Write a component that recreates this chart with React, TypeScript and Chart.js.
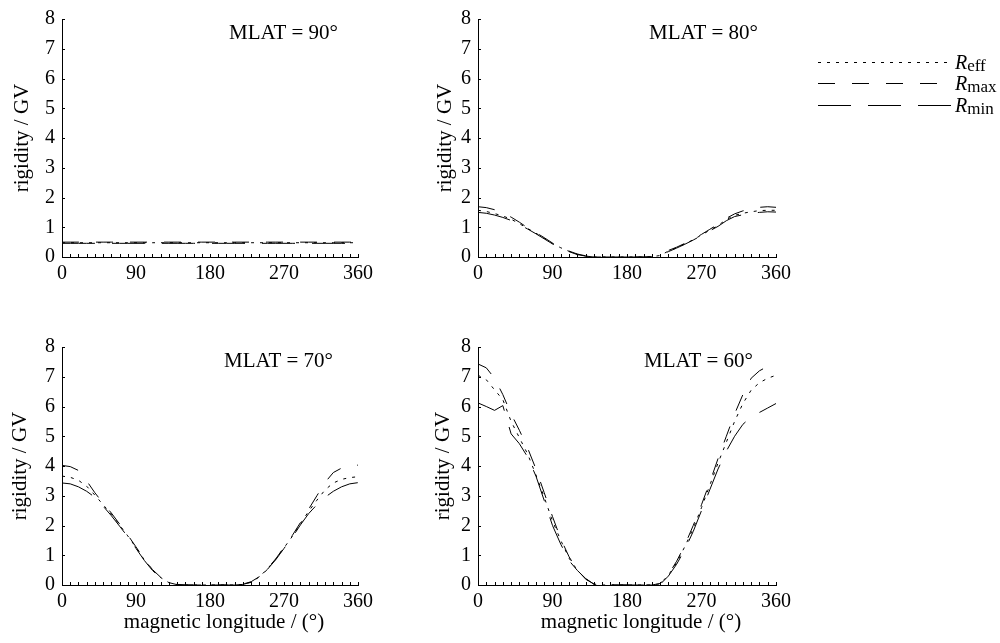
import React, { useEffect, useRef } from "react";
import { Chart, registerables } from "chart.js";

Chart.register(...registerables);

// ---------- data ----------
const longitude = [0, 10, 20, 30, 40, 50, 60, 70, 80, 90, 100, 110, 120, 130, 140, 150, 160, 170, 180, 190, 200, 210, 220, 230, 240, 250, 260, 270, 280, 290, 300, 310, 320, 330, 340, 350, 360];

const rMax90 = [0.5, 0.5, 0.5, 0.5, 0.5, 0.5, 0.5, 0.5, 0.5, 0.5, 0.5, 0.5, 0.5, 0.5, 0.5, 0.5, 0.5, 0.5, 0.5, 0.5, 0.5, 0.5, 0.5, 0.5, 0.5, 0.5, 0.5, 0.5, 0.5, 0.5, 0.5, 0.5, 0.5, 0.5, 0.5, 0.5, 0.5];
const rEff90 = [0.48, 0.48, 0.48, 0.48, 0.48, 0.48, 0.48, 0.48, 0.48, 0.48, 0.48, 0.48, 0.48, 0.48, 0.48, 0.48, 0.48, 0.48, 0.48, 0.48, 0.48, 0.48, 0.48, 0.48, 0.48, 0.48, 0.48, 0.48, 0.48, 0.48, 0.48, 0.48, 0.48, 0.48, 0.48, 0.48, 0.48];
const rMin90 = [0.46, 0.46, 0.46, 0.46, 0.46, 0.46, 0.46, 0.46, 0.46, 0.46, 0.46, 0.46, 0.46, 0.46, 0.46, 0.46, 0.46, 0.46, 0.46, 0.46, 0.46, 0.46, 0.46, 0.46, 0.46, 0.46, 0.46, 0.46, 0.46, 0.46, 0.46, 0.46, 0.46, 0.46, 0.46, 0.46, 0.46];

const rMax80 = [1.69, 1.66, 1.59, 1.48, 1.34, 1.17, 0.98, 0.82, 0.65, 0.47, 0.33, 0.2, 0.1, 0.04, 0.01, 0, 0, 0, 0, 0, 0, 0.01, 0.08, 0.22, 0.33, 0.46, 0.6, 0.76, 0.93, 1.1, 1.3, 1.45, 1.55, 1.62, 1.67, 1.69, 1.67];
const rEff80 = [1.57, 1.53, 1.46, 1.38, 1.27, 1.12, 0.96, 0.8, 0.63, 0.45, 0.31, 0.19, 0.09, 0.03, 0, 0, 0, 0, 0, 0, 0, 0.01, 0.05, 0.2, 0.31, 0.44, 0.58, 0.74, 0.9, 1.06, 1.26, 1.4, 1.47, 1.52, 1.56, 1.57, 1.57];
const rMin80 = [1.5, 1.47, 1.41, 1.33, 1.23, 1.09, 0.94, 0.78, 0.61, 0.44, 0.3, 0.18, 0.08, 0.03, 0, 0, 0, 0, 0, 0, 0, 0, 0.03, 0.18, 0.3, 0.43, 0.57, 0.72, 0.88, 1.03, 1.22, 1.36, 1.42, 1.47, 1.5, 1.52, 1.51];

const rMax70 = [4.02, 3.98, 3.85, 3.5, 3.1, 2.75, 2.42, 2.05, 1.68, 1.28, 0.87, 0.52, 0.26, 0.09, 0.02, 0, 0, 0, 0, 0, 0, 0, 0.03, 0.11, 0.28, 0.56, 0.88, 1.27, 1.66, 2.1, 2.55, 3.0, 3.45, 3.78, 3.93, 4.0, 4.03];
const rEff70 = [3.66, 3.62, 3.52, 3.32, 3.02, 2.7, 2.38, 2.02, 1.65, 1.26, 0.85, 0.5, 0.25, 0.08, 0.01, 0, 0, 0, 0, 0, 0, 0, 0.02, 0.1, 0.27, 0.55, 0.87, 1.25, 1.63, 2.06, 2.48, 2.85, 3.2, 3.43, 3.55, 3.61, 3.64];
const rMin70 = [3.43, 3.4, 3.3, 3.15, 2.95, 2.65, 2.33, 1.98, 1.62, 1.23, 0.83, 0.49, 0.24, 0.08, 0.01, 0, 0, 0, 0, 0, 0, 0, 0.02, 0.09, 0.26, 0.53, 0.85, 1.23, 1.6, 2.02, 2.4, 2.7, 2.95, 3.15, 3.3, 3.4, 3.44];

const rMax60 = [7.43, 7.3, 6.95, 6.4, 5.75, 5.2, 4.6, 3.9, 3.1, 2.3, 1.55, 0.95, 0.5, 0.2, 0.03, 0, 0, 0, 0, 0, 0, 0, 0.05, 0.35, 0.8, 1.35, 2.0, 2.7, 3.45, 4.25, 5.0, 5.75, 6.4, 6.95, 7.2, 7.35, 7.45];
const rEff60 = [7.05, 6.9, 6.56, 6.23, 5.5, 4.95, 4.4, 3.7, 2.95, 2.15, 1.5, 0.9, 0.5, 0.2, 0.03, 0, 0, 0, 0, 0, 0, 0, 0.04, 0.33, 0.75, 1.3, 1.9, 2.6, 3.35, 4.1, 4.8, 5.5, 6.1, 6.55, 6.8, 6.95, 7.05];
const rMin60 = [6.12, 6.0, 5.87, 6.03, 5.08, 4.75, 4.3, 3.66, 2.84, 2.0, 1.37, 0.82, 0.49, 0.22, 0.03, 0, 0, 0, 0, 0, 0, 0, 0.02, 0.3, 0.7, 1.2, 1.8, 2.5, 3.2, 3.9, 4.5, 5.0, 5.4, 5.65, 5.8, 5.95, 6.1];

const xTickValues = [0, 90, 180, 270, 360];
const yTickValues = [0, 1, 2, 3, 4, 5, 6, 7, 8];
const panelTitles = ["MLAT = 90°", "MLAT = 80°", "MLAT = 70°", "MLAT = 60°"];
const yAxisTitle = "rigidity / GV";
const xAxisTitle = "magnetic longitude / (°)";
const legendSubscripts = ["eff", "max", "min"];

// ---------- styles ----------
const SERIF = "'Liberation Serif', 'Times New Roman', serif";
const DASH_EFF = [3, 6];
const DASH_MAX = [17, 17];
const DASH_MIN = [33, 17];

type PanelProps = {
  left: number;
  top: number;
  plotLeft: number;
  plotWidth: number;
  title: string;
  titleRight: number;
  yTitleOffset: number;
  showXTitle: boolean;
  eff: number[];
  max: number[];
  min: number[];
};

const CANVAS_W = 400;
const CANVAS_H = 315;
const PLOT_TOP = 13;
const PLOT_H = 244;

function Panel(p: PanelProps) {
  const ref = useRef<HTMLCanvasElement | null>(null);
  useEffect(() => {
    if (!ref.current) return;
    const pts = (ys: number[]) => longitude.map((x, i) => ({ x, y: ys[i] }));
    const decor = {
      id: "decor",
      afterDraw(chart: any) {
        const { ctx, chartArea, scales } = chart;
        const xs = scales.x;
        const ys = scales.y;
        ctx.save();
        ctx.strokeStyle = "#000";
        ctx.lineWidth = 1;
        ctx.beginPath();
        for (let v = 0; v <= 360; v += 10) {
          const px = Math.round(xs.getPixelForValue(v)) + 0.5;
          ctx.moveTo(px, chartArea.bottom);
          ctx.lineTo(px, chartArea.bottom - 3);
        }
        yTickValues.forEach((v) => {
          const py = Math.round(ys.getPixelForValue(v)) + 0.5;
          ctx.moveTo(chartArea.left, py);
          ctx.lineTo(chartArea.left + 3, py);
        });
        ctx.stroke();
        ctx.fillStyle = "#000";
        ctx.font = `21px ${SERIF}`;
        ctx.textAlign = "right";
        ctx.textBaseline = "alphabetic";
        ctx.fillText(p.title, chartArea.right - p.titleRight, chartArea.top + 20);
        // y title
        ctx.save();
        ctx.translate(chartArea.left - p.yTitleOffset, (chartArea.top + chartArea.bottom) / 2);
        ctx.rotate(-Math.PI / 2);
        ctx.textAlign = "center";
        ctx.textBaseline = "middle";
        ctx.fillText(yAxisTitle, 0, 0);
        ctx.restore();
        if (p.showXTitle) {
          ctx.textAlign = "center";
          ctx.textBaseline = "alphabetic";
          ctx.fillText(xAxisTitle, (chartArea.left + chartArea.right) / 2 + 14, chartArea.bottom + 43);
        }
        ctx.restore();
      },
    };
    const common = { borderColor: "#000", borderWidth: 1, pointRadius: 0, tension: 0, fill: false };
    const chart = new Chart(ref.current, {
      type: "line",
      data: {
        datasets: [
          { label: "Rmin", data: pts(p.min), borderDash: DASH_MIN, ...common },
          { label: "Rmax", data: pts(p.max), borderDash: DASH_MAX, ...common },
          { label: "Reff", data: pts(p.eff), borderDash: DASH_EFF, ...common },
        ],
      },
      options: {
        animation: false,
        responsive: false,
        maintainAspectRatio: false,
        layout: { padding: { left: 0, top: PLOT_TOP, right: CANVAS_W - p.plotLeft - p.plotWidth, bottom: 0 } },
        plugins: { legend: { display: false }, tooltip: { enabled: false }, title: { display: false } },
        scales: {
          x: {
            type: "linear",
            min: 0,
            max: 360,
            afterBuildTicks: (s: any) => {
              s.ticks = xTickValues.map((v) => ({ value: v }));
            },
            afterFit: (s: any) => {
              s.height = CANVAS_H - PLOT_TOP - PLOT_H;
            },
            grid: { display: false, drawTicks: false },
            border: { display: true, color: "#000", width: 1 },
            ticks: { font: { family: SERIF, size: 20 }, color: "#000", padding: 5, maxRotation: 0, autoSkip: false },
          },
          y: {
            type: "linear",
            min: 0,
            max: 8,
            afterBuildTicks: (s: any) => {
              s.ticks = yTickValues.map((v) => ({ value: v }));
            },
            afterFit: (s: any) => {
              s.width = p.plotLeft;
            },
            grid: { display: false, drawTicks: false },
            border: { display: true, color: "#000", width: 1 },
            ticks: { font: { family: SERIF, size: 20 }, color: "#000", padding: 7, autoSkip: false },
          },
        },
      } as any,
      plugins: [decor],
    });
    return () => chart.destroy();
  }, []);
  return (
    <canvas
      ref={ref}
      width={CANVAS_W}
      height={CANVAS_H}
      style={{ position: "absolute", left: p.left, top: p.top, width: CANVAS_W, height: CANVAS_H }}
    />
  );
}

function Legend() {
  const rows = [
    { y: 62.5, dash: DASH_EFF, base: 68.5 },
    { y: 83.5, dash: DASH_MAX, base: 90 },
    { y: 105.5, dash: DASH_MIN, base: 111.5 },
  ];
  return (
    <svg width={1000} height={643} style={{ position: "absolute", left: 0, top: 0, pointerEvents: "none" }}>
      {rows.map((r, i) => (
        <g key={i}>
          <line x1={818} x2={952} y1={r.y} y2={r.y} stroke="#000" strokeWidth={1} strokeDasharray={r.dash.join(" ")} />
          <text x={955} y={r.base} fontFamily={SERIF} fontSize={20} fill="#000">
            <tspan fontStyle="italic">R</tspan>
            <tspan fontSize={17} dy={2}>{legendSubscripts[i]}</tspan>
          </text>
        </g>
      ))}
    </svg>
  );
}

export default function App() {
  return (
    <div style={{ position: "fixed", left: 0, top: 0, width: 1000, height: 643, background: "#fff", overflow: "hidden" }}>
      <Panel left={0} top={0} plotLeft={62} plotWidth={296} title={panelTitles[0]} titleRight={20} yTitleOffset={40} showXTitle={false} eff={rEff90} max={rMax90} min={rMin90} />
      <Panel left={416} top={0} plotLeft={62} plotWidth={298} title={panelTitles[1]} titleRight={18} yTitleOffset={33} showXTitle={false} eff={rEff80} max={rMax80} min={rMin80} />
      <Panel left={0} top={328} plotLeft={62} plotWidth={296} title={panelTitles[2]} titleRight={25} yTitleOffset={42} showXTitle={true} eff={rEff70} max={rMax70} min={rMin70} />
      <Panel left={416} top={328} plotLeft={62} plotWidth={298} title={panelTitles[3]} titleRight={23} yTitleOffset={35} showXTitle={true} eff={rEff60} max={rMax60} min={rMin60} />
      <Legend />
    </div>
  );
}
